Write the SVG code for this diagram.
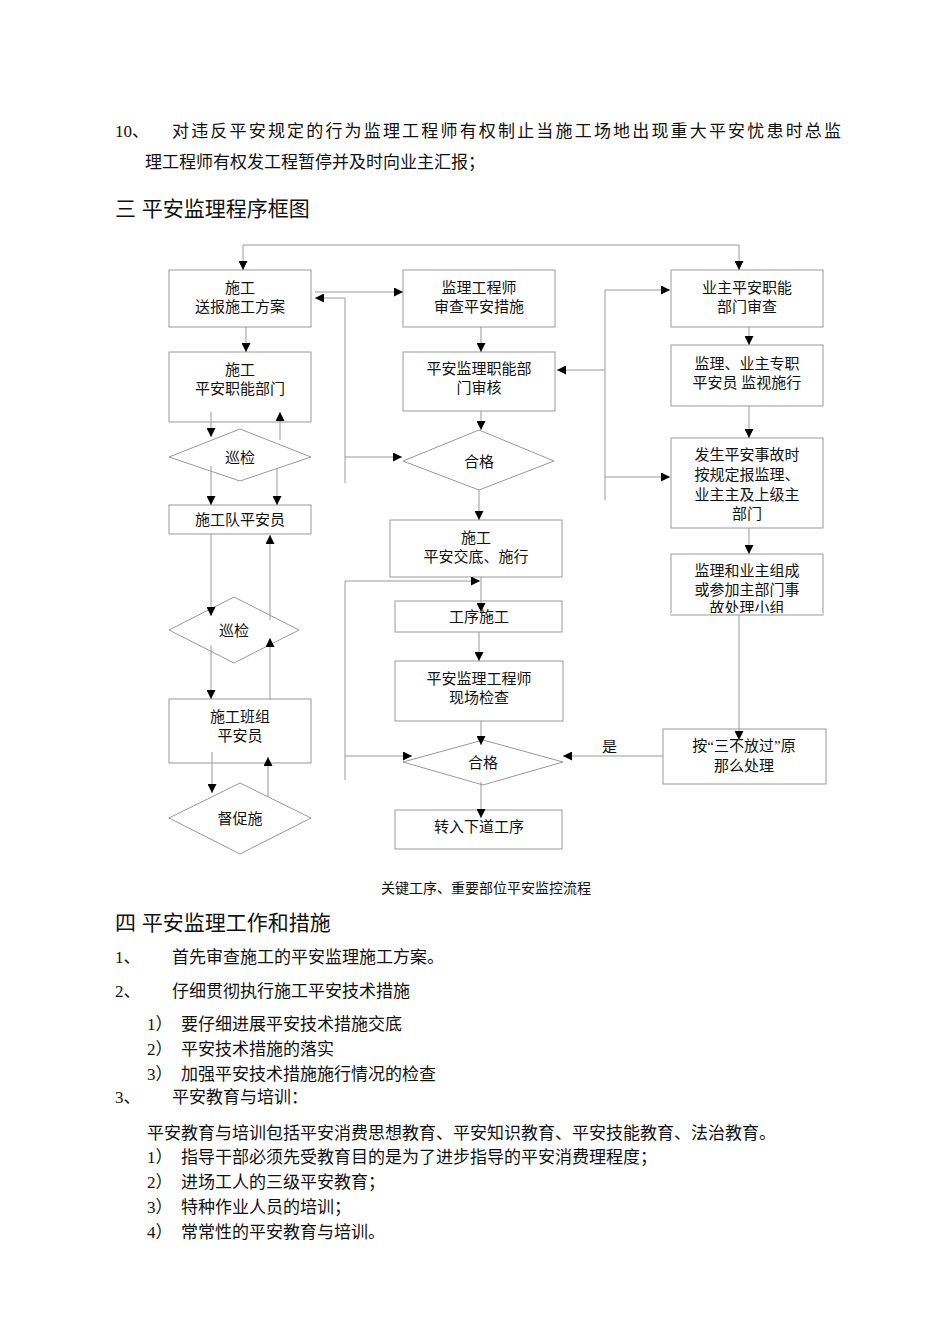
<svg xmlns="http://www.w3.org/2000/svg" width="950" height="1344" viewBox="0 0 950 1344">
<style>
.t{font-family:"Liberation Serif","Noto Sans CJK SC",serif;font-size:17px;fill:#111}
.h{font-family:"Liberation Sans","Noto Sans CJK SC",sans-serif;font-size:21px;fill:#111}
.n rect,.n polygon{fill:#fff;stroke:#999;stroke-width:1}
.n text{font-family:"Liberation Serif","Noto Sans CJK SC",serif;font-size:15px;fill:#111;text-anchor:middle}
#connectors path{fill:none;stroke:#999;stroke-width:1}
</style>
<defs><marker id="a" viewBox="0 0 10 10" refX="10" refY="5" markerWidth="9" markerHeight="9" markerUnits="userSpaceOnUse" orient="auto"><path d="M0,0L10,5L0,10z" fill="#000"/></marker></defs>
<rect width="950" height="1344" fill="#fff"/>
<text class="t" x="115" y="137">10、</text>
<text class="t" x="172" y="137" textLength="669">对违反平安规定的行为监理工程师有权制止当施工场地出现重大平安忧患时总监</text>
<text class="t" x="145" y="168">理工程师有权发工程暂停并及时向业主汇报；</text>
<text class="h" x="115" y="216">三  平安监理程序框图</text>

<g id="n1" class="n"><rect x="169" y="270" width="142" height="57"/><text x="240" y="293">施工</text><text x="240" y="312">送报施工方案</text></g>
<g id="n2" class="n"><rect x="169" y="352" width="142" height="70"/><text x="240" y="375">施工</text><text x="240" y="394">平安职能部门</text></g>
<g id="n3" class="n"><polygon points="169,457 240,429 311,457 240,481"/><text x="240" y="463">巡检</text></g>
<g id="n4" class="n"><rect x="169" y="505" width="142" height="29"/><text x="240" y="525">施工队平安员</text></g>
<g id="n5" class="n"><polygon points="169,630 234,597 299,630 234,663"/><text x="234" y="636">巡检</text></g>
<g id="n6" class="n"><rect x="169" y="699" width="142" height="64"/><text x="240" y="722">施工班组</text><text x="240" y="741">平安员</text></g>
<g id="n7" class="n"><polygon points="169,818 240,783 311,818 240,854"/><text x="240" y="824">督促施</text></g>
<g id="n8" class="n"><rect x="403" y="270" width="152" height="57"/><text x="479" y="293">监理工程师</text><text x="479" y="312">审查平安措施</text></g>
<g id="n9" class="n"><rect x="403" y="352" width="152" height="59"/><text x="479" y="374">平安监理职能部</text><text x="479" y="393">门审核</text></g>
<g id="n10" class="n"><polygon points="403,461 479,430 554,461 479,490"/><text x="479" y="467">合格</text></g>
<g id="n11" class="n"><rect x="390" y="520" width="172" height="57"/><text x="476" y="543">施工</text><text x="476" y="562">平安交底、施行</text></g>
<g id="n12" class="n"><rect x="395" y="601" width="167" height="31"/><text x="479" y="622">工序施工</text></g>
<g id="n13" class="n"><rect x="395" y="661" width="168" height="60"/><text x="479" y="684">平安监理工程师</text><text x="479" y="703">现场检查</text></g>
<g id="n14" class="n"><polygon points="403,762 483,740 563,762 483,785"/><text x="483" y="768">合格</text></g>
<g id="n15" class="n"><rect x="395" y="810" width="167" height="39"/><text x="479" y="832">转入下道工序</text></g>
<g id="n16" class="n"><rect x="671" y="270" width="152" height="57"/><text x="747" y="293">业主平安职能</text><text x="747" y="312">部门审查</text></g>
<g id="n17" class="n"><rect x="671" y="345" width="152" height="61"/><text x="747" y="369">监理、业主专职</text><text x="747" y="388">平安员  监视施行</text></g>
<g id="n18" class="n"><rect x="671" y="438" width="152" height="90"/><text x="747" y="460">发生平安事故时</text><text x="747" y="480">按规定报监理、</text><text x="747" y="500">业主主及上级主</text><text x="747" y="519">部门</text></g>
<g id="n19" class="n"><rect x="671" y="554" width="152" height="61"/><text x="747" y="576">监理和业主组成</text><text x="747" y="595">或参加主部门事</text><text x="747" y="613">故处理小组</text></g>
<g id="n20" class="n"><rect x="663" y="729" width="163" height="55"/><text x="744" y="751">按“三不放过”原</text><text x="744" y="771">那么处理</text></g>
<rect x="671" y="613" width="152" height="10" fill="#fff"/>
<path d="M671,615H823" stroke="#999" fill="none"/>

<g id="connectors" marker-end="url(#a)">
<path d="M739,245H243V270"/>
<path d="M739,245V270"/>
<path d="M246,327V352"/>
<path d="M211,412V437"/>
<path d="M280,440V412"/>
<path d="M211,466V505"/>
<path d="M277,468V505"/>
<path d="M211,534V616"/>
<path d="M270,620V535"/>
<path d="M211,645V699"/>
<path d="M270,700V638"/>
<path d="M212,752V793"/>
<path d="M268,797V757"/>
<path d="M315,292H403"/>
<path d="M345,483V298H315"/>
<path d="M345,457H402"/>
<path d="M481,327V352"/>
<path d="M481,411V430"/>
<path d="M479,490V520"/>
<path d="M605,500V290H670"/>
<path d="M605,370H557"/>
<path d="M605,477H670"/>
<path d="M345,780V581H480"/>
<path d="M345,756H412"/>
<path d="M481,577V612"/>
<path d="M479,632V661"/>
<path d="M481,721V745"/>
<path d="M481,782V818"/>
<path d="M749,327V345"/>
<path d="M749,406V438"/>
<path d="M749,528V554"/>
<path d="M739,615V740"/>
<path d="M663,756H563"/>
</g>
<text class="t" x="602" y="752" style="font-size:15px">是</text>

<text class="t" x="486" y="893" text-anchor="middle" style="font-size:14px">关键工序、重要部位平安监控流程</text>
<text class="h" x="115" y="930">四  平安监理工作和措施</text>
<text class="t" x="115" y="963">1、</text><text class="t" x="172" y="963">首先审查施工的平安监理施工方案。</text>
<text class="t" x="115" y="997">2、</text><text class="t" x="172" y="997">仔细贯彻执行施工平安技术措施</text>
<text class="t" x="147" y="1030">1）</text><text class="t" x="181" y="1030">要仔细进展平安技术措施交底</text>
<text class="t" x="147" y="1055">2）</text><text class="t" x="181" y="1055">平安技术措施的落实</text>
<text class="t" x="147" y="1080">3）</text><text class="t" x="181" y="1080">加强平安技术措施施行情况的检查</text>
<text class="t" x="115" y="1103">3、</text><text class="t" x="172" y="1103">平安教育与培训：</text>
<text class="t" x="147" y="1139">平安教育与培训包括平安消费思想教育、平安知识教育、平安技能教育、法治教育。</text>
<text class="t" x="147" y="1163">1）</text><text class="t" x="181" y="1163">指导干部必须先受教育目的是为了进步指导的平安消费理程度；</text>
<text class="t" x="147" y="1188">2）</text><text class="t" x="181" y="1188">进场工人的三级平安教育；</text>
<text class="t" x="147" y="1213">3）</text><text class="t" x="181" y="1213">特种作业人员的培训；</text>
<text class="t" x="147" y="1238">4）</text><text class="t" x="181" y="1238">常常性的平安教育与培训。</text>
</svg>
